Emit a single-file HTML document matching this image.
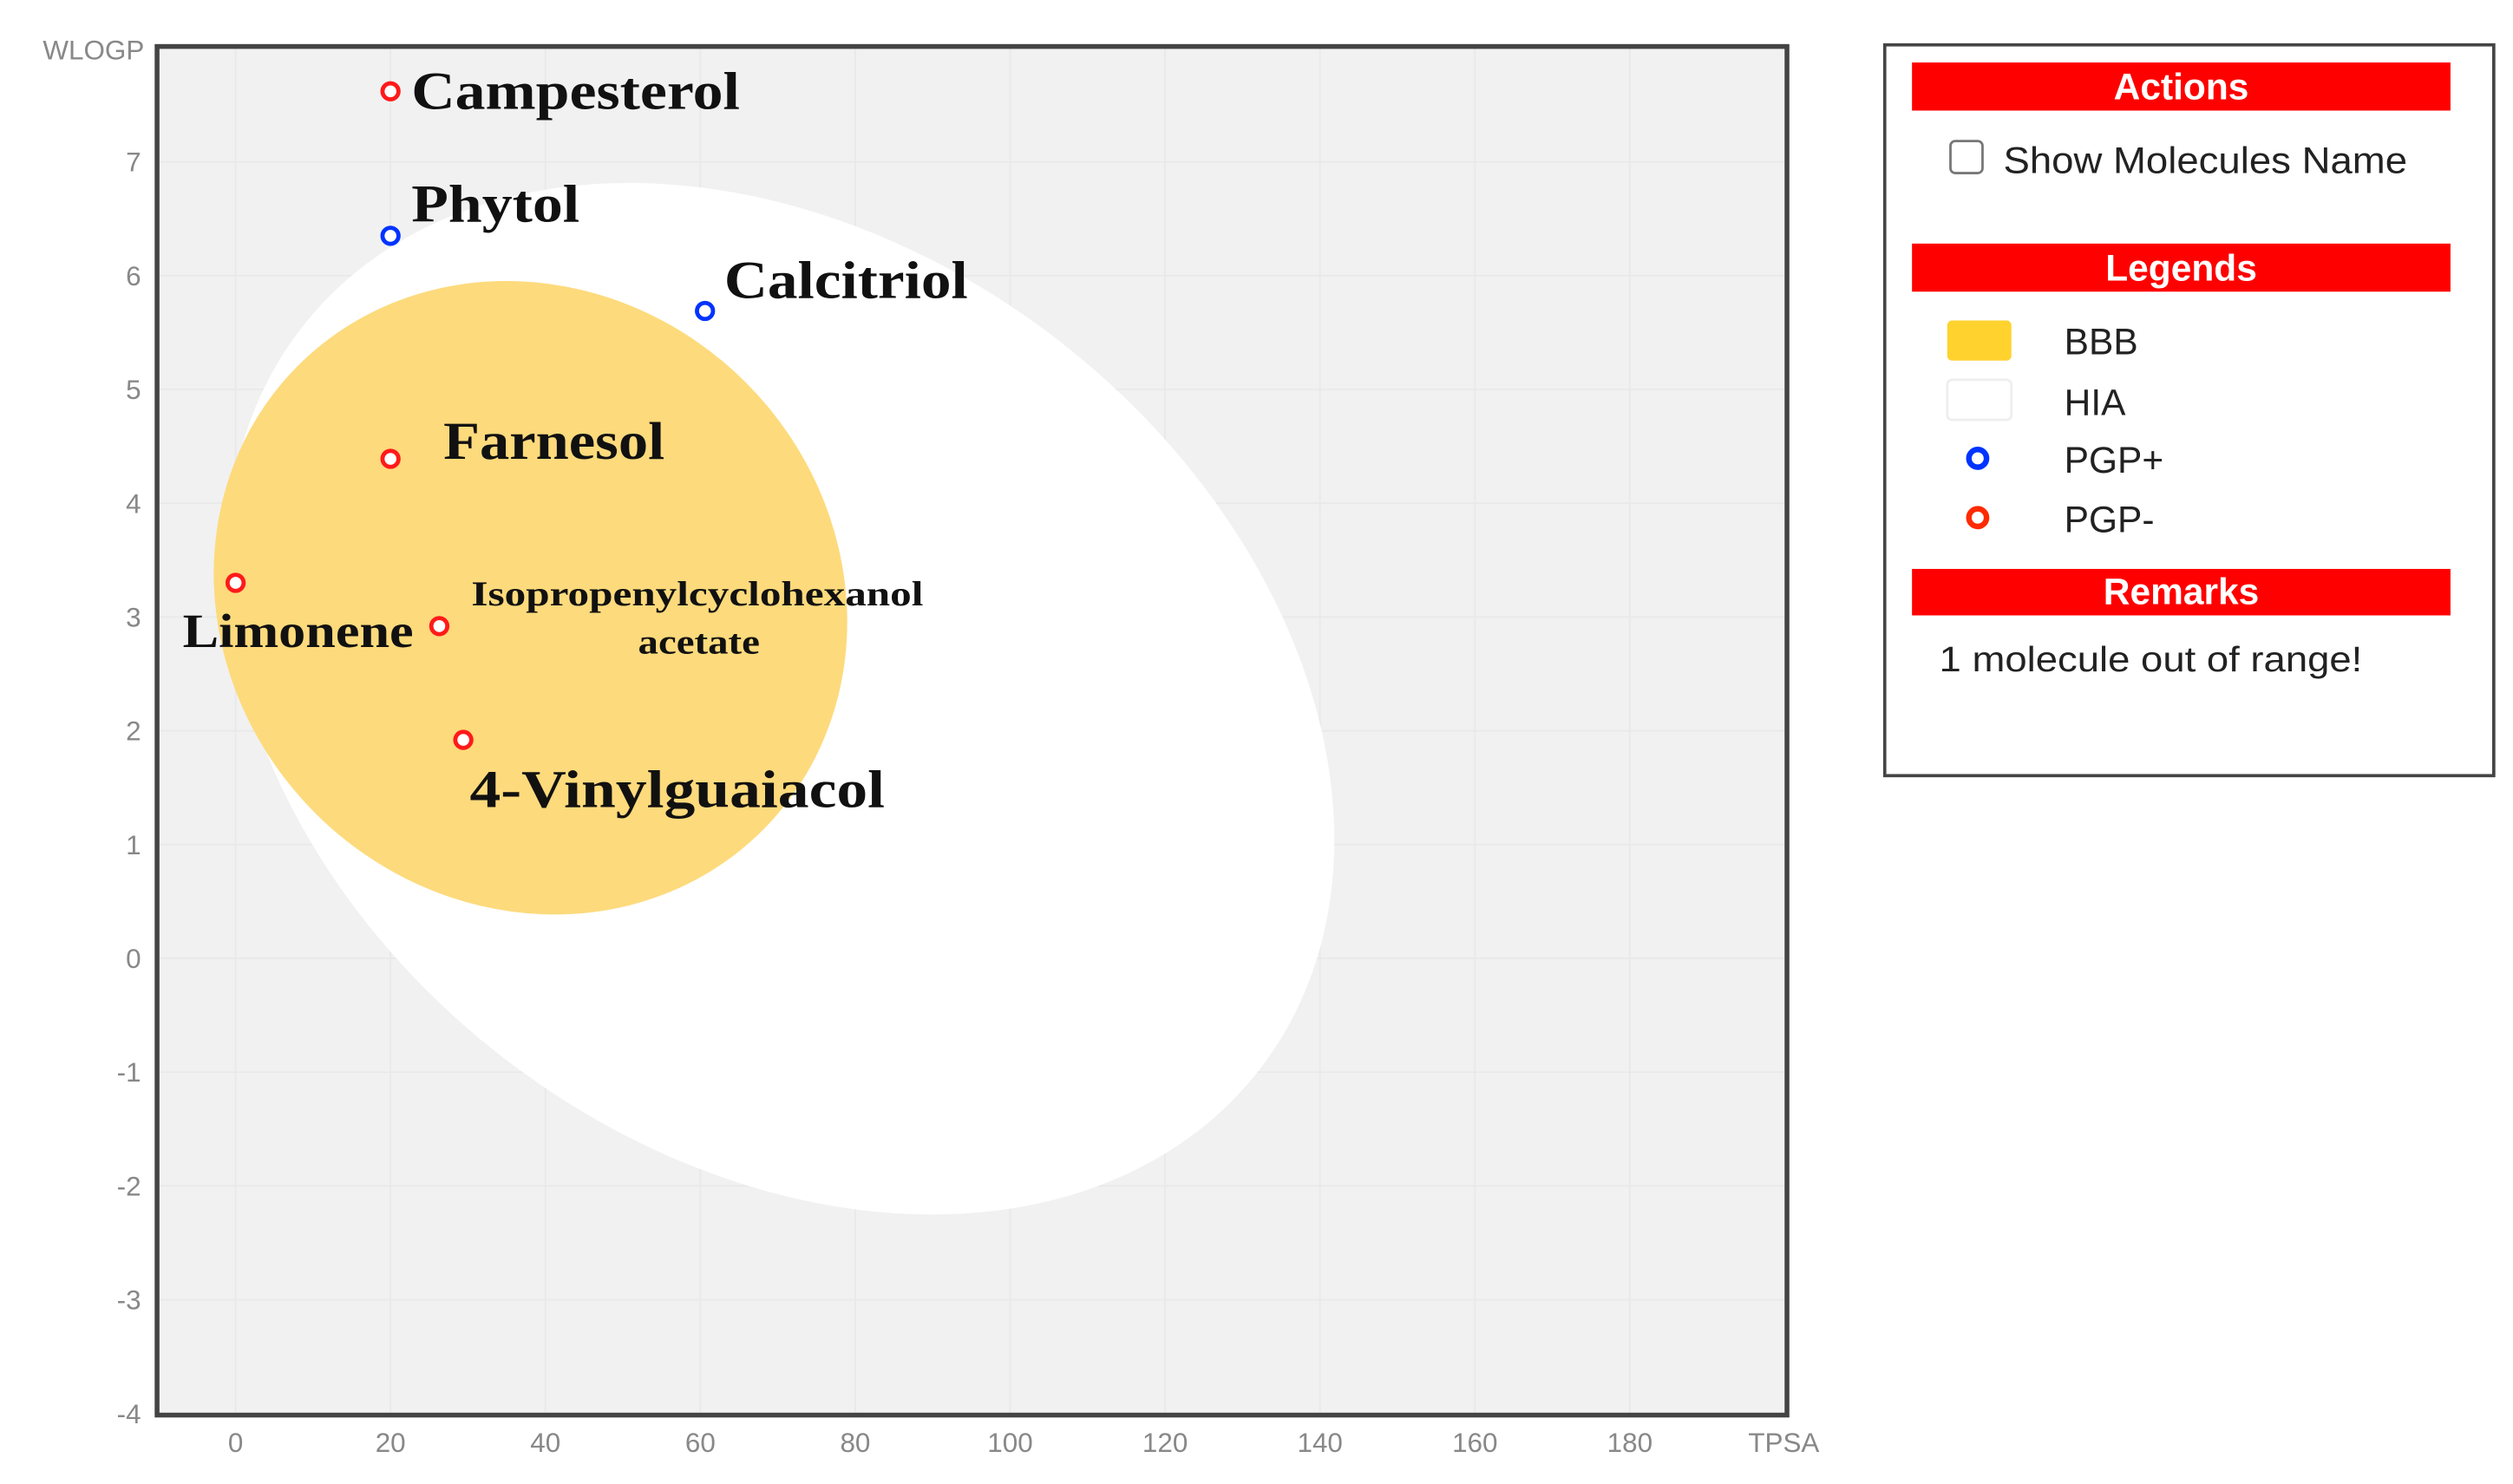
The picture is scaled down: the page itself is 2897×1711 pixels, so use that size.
<!DOCTYPE html>
<html><head><meta charset="utf-8">
<style>
html,body{margin:0;padding:0;background:#fff;}
svg{display:block;}
</style></head>
<body>
<svg id="chart" width="2897" height="1711" viewBox="0 0 1568 926" preserveAspectRatio="none" xmlns="http://www.w3.org/2000/svg">
<rect x="98" y="29" width="1017" height="854" fill="#f1f1f1"/>
<g id="grid"></g>
<ellipse cx="487" cy="436" rx="378" ry="283" transform="rotate(37.7 487 436)" fill="#ffffff"/>
<ellipse cx="331" cy="373" rx="205" ry="190" transform="rotate(45 331 373)" fill="#fdda7c"/>
<rect x="98" y="29" width="1017" height="854" fill="none" stroke="#444" stroke-width="3"/>
<g id="ticks"></g>
<text x="90" y="37" text-anchor="end" font-family="Liberation Sans, sans-serif" font-size="17" fill="#888">WLOGP</text>
<text x="1113" y="906" text-anchor="middle" font-family="Liberation Sans, sans-serif" font-size="17" fill="#888">TPSA</text>
<g id="points"></g>

<rect x="1176" y="28" width="380" height="456" fill="#fff" stroke="#444" stroke-width="2"/>
<rect x="1193" y="39" width="336" height="30" fill="#ff0000"/>
<text x="1361" y="62" text-anchor="middle" font-family="Liberation Sans, sans-serif" font-weight="bold" font-size="23" fill="#fff">Actions</text>
<rect x="1217" y="88" width="20" height="20" rx="3" fill="#fff" stroke="#777" stroke-width="1.5"/>
<text x="1250" y="108" font-family="Liberation Sans, sans-serif" font-size="23" fill="#222" textLength="252" lengthAdjust="spacingAndGlyphs">Show Molecules Name</text>
<rect x="1193" y="152" width="336" height="30" fill="#ff0000"/>
<text x="1361" y="175" text-anchor="middle" font-family="Liberation Sans, sans-serif" font-weight="bold" font-size="23" fill="#fff">Legends</text>
<rect x="1215" y="200" width="40" height="25" rx="3" fill="#ffd22e"/>
<text x="1288" y="221" font-family="Liberation Sans, sans-serif" font-size="23" fill="#222">BBB</text>
<rect x="1215" y="237" width="40" height="25" rx="3" fill="#fff" stroke="#eee" stroke-width="1.5"/>
<text x="1288" y="259" font-family="Liberation Sans, sans-serif" font-size="23" fill="#222">HIA</text>
<circle cx="1234" cy="286" r="5.5" fill="#fff" stroke="#0033ff" stroke-width="3.5"/>
<text x="1288" y="295" font-family="Liberation Sans, sans-serif" font-size="23" fill="#222">PGP+</text>
<circle cx="1234" cy="323" r="5.5" fill="#fff" stroke="#ff2a00" stroke-width="3.5"/>
<text x="1288" y="332" font-family="Liberation Sans, sans-serif" font-size="23" fill="#222">PGP-</text>
<rect x="1193" y="355" width="336" height="29" fill="#ff0000"/>
<text x="1361" y="377" text-anchor="middle" font-family="Liberation Sans, sans-serif" font-weight="bold" font-size="23" fill="#fff">Remarks</text>
<text x="1210" y="419" font-family="Liberation Sans, sans-serif" font-size="22" fill="#222" textLength="264" lengthAdjust="spacingAndGlyphs">1 molecule out of range!</text>
</svg>
<script>
const xTicks = [0,20,40,60,80,100,120,140,160,180];
const yTicks = [7,6,5,4,3,2,1,0,-1,-2,-3,-4];
const names = ["Campesterol","Phytol","Calcitriol","Farnesol","Limonene","Isopropenylcyclohexanol acetate","4-Vinylguaiacol"];
const tpsa = [20,20,60.6,20,0,26.3,29.4];
const wlogp = [7.62,6.35,5.69,4.39,3.30,2.92,1.92];
const pgp = ["-","+","+","-","-","-","-"];

const NS="http://www.w3.org/2000/svg";
function sx(v){return 147 + v*4.833;}
function sy(v){return 101 + (7-v)*71;}
function mk(tag, attrs, parent){const e=document.createElementNS(NS,tag);for(const k in attrs)e.setAttribute(k,attrs[k]);parent.appendChild(e);return e;}

const grid=document.getElementById('grid'), ticks=document.getElementById('ticks'), pts=document.getElementById('points');
xTicks.forEach(t=>{
  const l=mk('line',{x1:sx(t),x2:sx(t),y1:29,y2:883,stroke:'#e9e9e9','stroke-width':1},grid);
  
  
  const tx=mk('text',{x:sx(t),y:906,'text-anchor':'middle','font-family':'Liberation Sans, sans-serif','font-size':17,fill:'#888'},ticks);
  tx.textContent=t;
  
  
});
yTicks.forEach(t=>{
  const l=mk('line',{x1:98,x2:1115,y1:sy(t),y2:sy(t),stroke:'#e9e9e9','stroke-width':1},grid);
  
  
  const tx=mk('text',{x:88,y:sy(t)+6,'text-anchor':'end','font-family':'Liberation Sans, sans-serif','font-size':17,fill:'#888'},ticks);
  tx.textContent=t;
  
  
});
// label layout: [dx, dy, anchor, font-size, text width]
const off=[[13,11,'start',33,205],[13,-9,'start',33,105],[12,-8,'start',33,152],[33,0,'start',33,138],[111,40,'end',30,144],[20,-13,'start',22,282],[4,42,'start',33,259]];
names.forEach((n,i)=>{
  const cx=sx(tpsa[i]), cy=sy(wlogp[i]);
  const c=mk('circle',{cx:cx,cy:cy,r:5,fill:'#fff',stroke:pgp[i]==='+'?'#0033ff':'#ff1a1a','stroke-width':2.6},pts);
  
  
  const o=off[i];
  const t=mk('text',{x:cx+o[0],y:cy+o[1],'text-anchor':o[2],'font-family':'Liberation Serif, serif','font-weight':'bold','font-size':o[3],fill:'#111',textLength:o[4],lengthAdjust:'spacingAndGlyphs'},pts);
  
  
  if(n.indexOf(' ')>0 && o[3]<25){
    const parts=n.split(' ');
    t.textContent=parts[0];
    const t2=mk('text',{x:cx+162,y:cy+o[1]+30,'text-anchor':'middle','font-family':'Liberation Serif, serif','font-weight':'bold','font-size':o[3],fill:'#111',textLength:76,lengthAdjust:'spacingAndGlyphs'},pts);
    t2.textContent=parts[1];
    
    
  } else t.textContent=n;
});
</script>
</body></html>
